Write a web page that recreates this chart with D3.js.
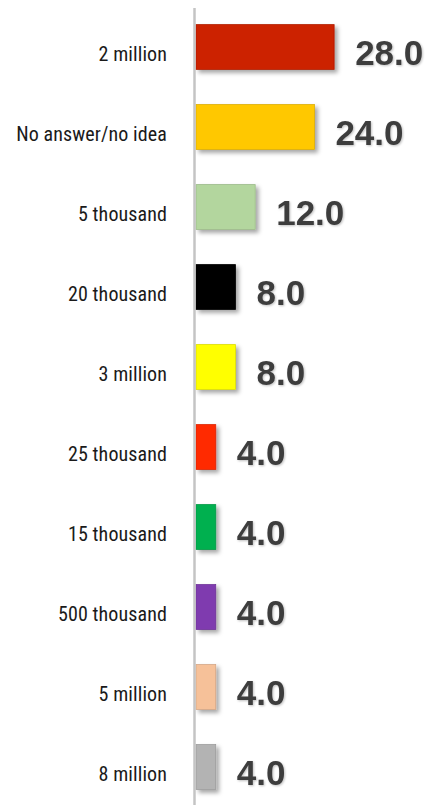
<!DOCTYPE html>
<html>
<head>
<meta charset="utf-8">
<script src="https://cdn.jsdelivr.net/npm/d3@7"></script>
<style>
  html, body { margin: 0; padding: 0; background: #fff; }
  svg { display: block; }
</style>
</head>
<body>
<svg id="chart" width="436" height="805"></svg>
<script>
// Answers and their shares (%)
const categories = ["2 million", "No answer/no idea", "5 thousand", "20 thousand", "3 million",
                    "25 thousand", "15 thousand", "500 thousand", "5 million", "8 million"];
const values = [28.0, 24.0, 12.0, 8.0, 8.0, 4.0, 4.0, 4.0, 4.0, 4.0];
const colors = ["#CC2200", "#FFC800", "#B3D69E", "#000000", "#FFFF00",
                "#FF2A00", "#00B050", "#7F3BAF", "#F6C199", "#B3B3B3"];

const data = categories.map((c, i) => ({ cat: c, val: values[i], color: colors[i] }));

const svg = d3.select("#chart");
const W = 436, H = 805;

const x = d3.scaleLinear().domain([0, 30]).range([196, 344]);
const y = d3.scaleBand().domain(categories).range([7, 807])
  .paddingInner(0.44).paddingOuter(0.22);

const defs = svg.append("defs");
const barShadow = defs.append("filter").attr("id", "barShadow")
  .attr("x", "-20%").attr("y", "-20%").attr("width", "160%").attr("height", "160%");
barShadow.append("feDropShadow").attr("dx", 3).attr("dy", 3).attr("stdDeviation", 2.2)
  .attr("flood-color", "#000").attr("flood-opacity", 0.35);

const textShadow = defs.append("filter").attr("id", "textShadow")
  .attr("x", "-10%").attr("y", "-20%").attr("width", "130%").attr("height", "150%");
textShadow.append("feDropShadow").attr("dx", 1).attr("dy", 1).attr("stdDeviation", 1)
  .attr("flood-color", "#000").attr("flood-opacity", 0.25);

// Bars
svg.append("g").selectAll("rect").data(data).join("rect")
  .attr("x", x(0))
  .attr("y", d => y(d.cat))
  .attr("width", d => x(d.val) - x(0))
  .attr("height", y.bandwidth())
  .attr("fill", d => d.color)
  .attr("stroke", d => d3.color(d.color).darker(0.4))
  .attr("stroke-width", 0.8)
  .attr("filter", "url(#barShadow)");

// Vertical axis line
svg.append("line")
  .attr("x1", 194.5).attr("x2", 194.5)
  .attr("y1", 8).attr("y2", H)
  .attr("stroke", "#c4c4c4").attr("stroke-width", 2.5);

// Category labels
svg.append("g").selectAll("text").data(data).join("text")
  .attr("x", 167)
  .attr("y", d => y(d.cat) + y.bandwidth() / 2 + 13.5)
  .attr("text-anchor", "end")
  .attr("font-family", "'Liberation Sans Narrow', 'Roboto Condensed', 'DejaVu Sans Condensed', Roboto, sans-serif")
  .attr("font-size", 20)
  .attr("letter-spacing", 0.1)
  .attr("fill", "#1a1a1a")
  .text(d => d.cat);

// Value labels
svg.append("g").selectAll("text").data(data).join("text")
  .attr("x", d => x(d.val) + 21)
  .attr("y", d => y(d.cat) + y.bandwidth() / 2 + 18)
  .attr("font-family", "'Liberation Sans', Arial, sans-serif")
  .attr("font-weight", "bold")
  .attr("font-size", 35)
  .attr("fill", "#3d3d3d")
  .attr("filter", "url(#textShadow)")
  .text(d => d3.format(".1f")(d.val));
</script>
</body>
</html>
